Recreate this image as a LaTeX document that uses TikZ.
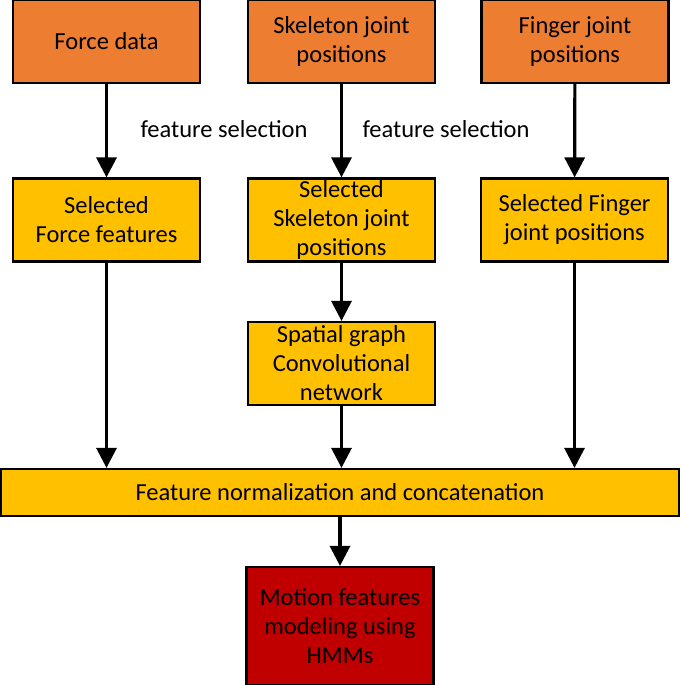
\documentclass[tikz,border=0pt]{standalone}
\usepackage{fontspec}
\setmainfont{Carlito}
\usetikzlibrary{arrows.meta}
\definecolor{srcorange}{HTML}{ED7D31}
\definecolor{selyellow}{HTML}{FFC000}
\definecolor{hmmred}{HTML}{C00000}
\tikzset{
  blk/.style={draw, line width=2.2pt, align=center, inner sep=0pt,
    minimum width=187pt, minimum height=83pt,
    font=\fontsize{24.5}{29}\selectfont},
  src/.style={blk, fill=srcorange},
  sel/.style={blk, fill=selyellow},
  flow/.style={line width=3.2pt, -{Triangle[width=20pt,length=20pt]}},
  lbl/.style={font=\fontsize{24.5}{29}\selectfont, inner sep=0pt}
}
\begin{document}
\begin{tikzpicture}[x=1pt,y=-1pt]
\useasboundingbox (0,0) rectangle (681,685);
% inputs
\node[src] (force) at (106.5,41.5) {Force data};
\node[src] (skel) at (341.5,41.5) {Skeleton joint\\positions};
\node[src] (finger) at (575,41.5) {Finger joint\\positions};
% selected features
\node[sel] (selforce) at (106.5,220) {Selected\\Force features};
\node[sel] (selskel) at (341.5,220) {Selected\\Skeleton joint\\positions};
\node[sel] (selfinger) at (574.5,220) {Selected Finger\\joint positions};
\node[sel] (sgcn) at (341.5,363.5) {Spatial graph\\Convolutional\\network};
% fusion and model
\node[sel, minimum width=678pt, minimum height=47pt] (norm) at (340,492.5)
  {Feature normalization and concatenation};
\node[blk, fill=hmmred, minimum height=118pt] (hmm) at (340,626)
  {Motion features\\modeling using\\HMMs};
\node[lbl] (fsleft) at (224,129) {feature selection};
\node[lbl] (fsright) at (446,129) {feature selection};
% arrows
\draw[flow] (force) -- (selforce);
\draw[flow] (skel) -- (selskel);
\draw[flow] (finger) -- (selfinger);
\draw[flow] (selskel) -- (sgcn);
\draw[flow] (selforce) -- (selforce |- norm.north);
\draw[flow] (sgcn) -- (sgcn |- norm.north);
\draw[flow] (selfinger) -- (selfinger |- norm.north);
\draw[flow] (norm) -- (hmm);
\end{tikzpicture}
\end{document}
